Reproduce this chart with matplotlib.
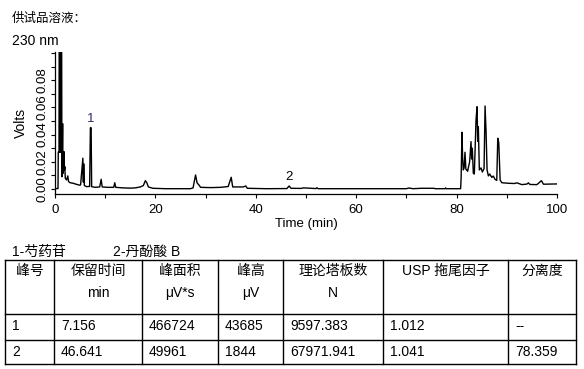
import matplotlib
matplotlib.use('Agg')
import matplotlib.pyplot as plt
from matplotlib.lines import Line2D
from matplotlib.ticker import FixedLocator

# ── fonts: Latin first, CJK as fallback ──
plt.rcParams['font.family'] = ['Liberation Sans', 'Noto Sans CJK SC']
plt.rcParams['axes.unicode_minus'] = False

W, H = 584, 369  # figure size in pixels


def fx(px):
    return px / W


def fy(py):
    return 1 - py / H


# ── chromatogram trace, time in min, signal in V ──
trace_t = [0.0, 0.6, 0.65, 0.8, 0.85, 0.95, 1.0, 1.15, 1.2, 1.3, 1.38, 1.52,
           1.6, 1.7, 1.8, 1.88, 1.95, 2.05, 2.3, 2.55, 2.7, 3.0, 3.6, 4.2,
           4.9, 5.1, 5.55, 5.65, 5.72, 5.85, 6.3, 6.9, 7.05, 7.2, 7.3, 8.0,
           8.9, 9.2, 9.4, 10.5, 11.7, 11.9, 12.1, 13.5, 15.0, 16.0, 17.0,
           17.6, 18.0, 18.3, 18.6, 19.5, 22.0, 25.0, 27.0, 27.5, 28.0, 28.3,
           28.7, 29.0, 31.0, 33.0, 34.5, 35.1, 35.4, 37.5, 38.0, 38.3, 42.0,
           46.2, 46.64, 47.0, 49.0, 49.5, 50.5, 52.0, 52.2, 52.4, 70.0, 70.5,
           71.3, 73.0, 75.5, 75.7, 77.7, 77.8, 77.9, 80.8, 80.9, 81.07, 81.2,
           81.33, 81.5, 81.67, 81.85, 82.0, 82.2, 82.33, 82.6, 82.87, 83.0,
           83.13, 83.33, 83.53, 83.87, 84.07, 84.2, 84.33, 84.53, 84.87,
           85.13, 85.47, 85.67, 85.87, 86.07, 86.33, 86.6, 87.0, 87.3, 87.67,
           88.0, 88.2, 88.4, 88.67, 89.0, 90.3, 91.5, 92.0, 93.0, 94.0, 94.3,
           94.6, 96.0, 96.9, 97.3, 100.0]
trace_v = [0.0003, 0.0003, 0.027, 0.027, 0.15, 0.15, 0.027, 0.027, 0.15, 0.15,
           0.009, 0.048, 0.0115, 0.019, 0.0274, 0.014, 0.0164, 0.0079, 0.0066,
           0.0096, 0.0054, 0.0046, 0.0042, 0.0035, 0.0028, 0.003, 0.0226,
           0.005, 0.0185, 0.0025, 0.0017, 0.0019, 0.045, 0.045, 0.0017,
           0.0012, 0.0015, 0.0071, 0.0015, 0.0012, 0.0012, 0.0046, 0.0012,
           0.0008, 0.0006, 0.0008, 0.0015, 0.0025, 0.0061, 0.0045, 0.0015,
           0.0005, 0.0002, 0.0002, 0.0002, 0.0008, 0.0103, 0.0045, 0.0028,
           0.0012, 0.0010, 0.0012, 0.0018, 0.0086, 0.0015, 0.0015, 0.0022,
           0.0005, 0.0002, 0.0003, 0.0022, 0.0005, 0.0004, 0.0008, 0.0006,
           0.0003, 0.0009, 0.0002, 0.0002, 0.0007, 0.0002, 0.0005, 0.0005,
           0.0002, 0.0002, 0.0008, 0.0002, 0.0002, 0.0079, 0.0417, 0.0228,
           0.014, 0.0155, 0.027, 0.0145, 0.014, 0.013, 0.0155, 0.02, 0.0348,
           0.022, 0.030, 0.0115, 0.011, 0.0507, 0.0605, 0.035, 0.0458, 0.014,
           0.0155, 0.0125, 0.015, 0.061, 0.042, 0.014, 0.0096, 0.011, 0.0085,
           0.0095, 0.007, 0.0063, 0.0373, 0.034, 0.0066, 0.0046, 0.0042,
           0.0040, 0.0045, 0.0032, 0.0036, 0.0045, 0.0033, 0.0032, 0.0061,
           0.0035, 0.0037]

# labelled peaks
peak_names = ['1', '2']
peak_rt = [7.156, 46.641]
peak_top = [0.045, 0.0022]
peak_colors = ['#352868', 'black']

# ── table content ──
legend_items = ['1-芍药苷', '2-丹酚酸 B']
header_top = ['峰号', '保留时间', '峰面积', '峰高', '理论塔板数', 'USP 拖尾因子', '分离度']
header_unit = ['', 'min', 'μV*s', 'μV', 'N', '', '']
row1 = ['1', '7.156', '466724', '43685', '9597.383', '1.012', '--']
row2 = ['2', '46.641', '49961', '1844', '67971.941', '1.041', '78.359']

fig = plt.figure(figsize=(W / 100, H / 100), dpi=100)

# ── chromatogram ──
ax_l, ax_r, ax_t, ax_b = 55, 557, 52, 194
ax = fig.add_axes([fx(ax_l), fy(ax_b), fx(ax_r - ax_l), (ax_b - ax_t) / H])
ax.plot(trace_t, trace_v, color='black', lw=1.0)
ax.set_xlim(0, 100)
ax.set_ylim(-0.0037, 0.1007)
ax.spines['top'].set_visible(False)
ax.spines['right'].set_visible(False)
for s in ['left', 'bottom']:
    ax.spines[s].set_linewidth(0.9)

ax.xaxis.set_major_locator(FixedLocator([0, 20, 40, 60, 80, 100]))
ax.xaxis.set_minor_locator(FixedLocator([10, 30, 50, 70, 90]))
ax.yaxis.set_major_locator(FixedLocator([0, 0.02, 0.04, 0.06, 0.08]))
ax.yaxis.set_minor_locator(FixedLocator([0.01, 0.03, 0.05, 0.07, 0.09, 0.10]))
ax.set_yticklabels(['0.00', '0.02', '0.04', '0.06', '0.08'])
ax.tick_params(which='both', direction='out', length=3, width=0.8, labelsize=9.5)
ax.tick_params(axis='x', pad=4.5)
ax.tick_params(axis='y', pad=2)
plt.setp(ax.get_yticklabels(), rotation=90, va='center')

ax.set_ylabel('Volts', fontsize=10)
ax.yaxis.set_label_coords((28 - ax_l) / (ax_r - ax_l), 0.5)
ax.set_xlabel('Time (min)', fontsize=9.5)
ax.xaxis.set_label_coords(0.5, -(218 - ax_b) / (ax_b - ax_t))

for name, rt, top, c in zip(peak_names, peak_rt, peak_top, peak_colors):
    ax.annotate(name, xy=(rt, top), xytext=(0, 4), textcoords='offset points',
                ha='center', va='baseline', fontsize=9.5, color=c)

# ── captions above the chart ──
fig.text(fx(12), fy(22), '供试品溶液：', fontsize=9, va='baseline')
fig.text(fx(12), fy(45), '230 nm', fontsize=10, va='baseline')

# ── table below the chart ──
fig.text(fx(12), fy(256), legend_items[0], fontsize=10, va='baseline')
fig.text(fx(113), fy(256), legend_items[1], fontsize=10, va='baseline')

col_edges = [5, 54, 142, 218, 283, 383, 508, 576]
row_edges = [260, 314, 340, 364]
for xe in col_edges:
    fig.add_artist(Line2D([fx(xe), fx(xe)], [fy(row_edges[0]), fy(row_edges[-1])],
                          color='black', lw=1.0, transform=fig.transFigure))
for ye in row_edges:
    fig.add_artist(Line2D([fx(col_edges[0]), fx(col_edges[-1])], [fy(ye), fy(ye)],
                          color='black', lw=1.0, transform=fig.transFigure))

for i in range(len(header_top)):
    cx = (col_edges[i] + col_edges[i + 1]) / 2
    fig.text(fx(cx), fy(275), header_top[i], fontsize=10, ha='center', va='baseline')
    if header_unit[i]:
        fig.text(fx(cx), fy(297), header_unit[i], fontsize=10, ha='center', va='baseline')
    fig.text(fx(col_edges[i] + 7), fy(330), row1[i], fontsize=10, va='baseline')
    fig.text(fx(col_edges[i] + 7), fy(356), row2[i], fontsize=10, va='baseline')

fig.savefig('out.png', dpi=100)
